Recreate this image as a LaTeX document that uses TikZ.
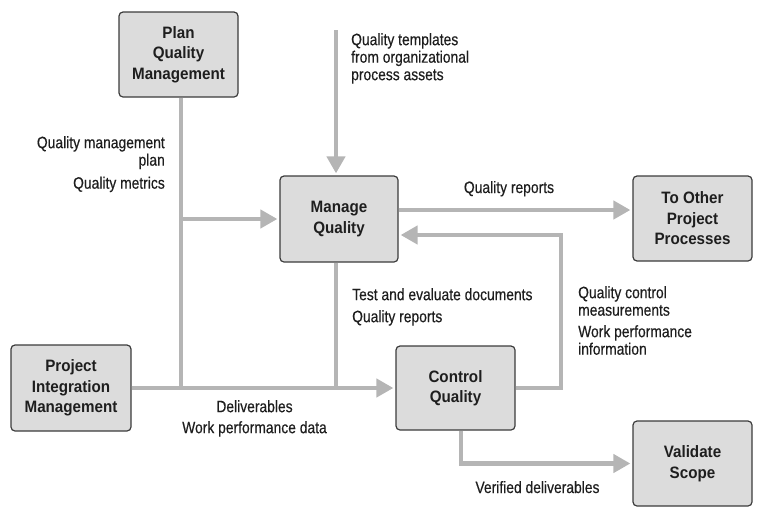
\documentclass[tikz,border=0pt]{standalone}
\usepackage{fontspec}
\setmainfont{Liberation Sans}[FakeStretch=0.92]
\newfontfamily\lblfont{Liberation Sans}[FakeStretch=0.84,FakeBold=0.4]
\usetikzlibrary{arrows.meta,calc}
\definecolor{boxfill}{HTML}{DCDCDC}
\definecolor{boxline}{HTML}{3C3C3C}
\definecolor{conncol}{HTML}{B5B5B5}
\definecolor{txt}{HTML}{1E1E1E}
\tikzset{
  procbox/.style={draw=boxline, fill=boxfill, line width=1.2pt, rounded corners=4pt,
    minimum width=119pt, minimum height=85pt, inner sep=0pt, align=center,
    text=txt, font=\fontsize{16.5}{20.5}\selectfont\bfseries},
  conn/.style={draw=conncol, line width=4.5pt},
  arr/.style={conn, -{Triangle[length=17pt,width=18pt]}, shorten >=2pt},
  lbl/.style={inner sep=0pt, text=txt, font=\lblfont\fontsize{16.5}{17.5}\selectfont}
}
\begin{document}
\begin{tikzpicture}[x=1pt,y=-1pt]
\useasboundingbox (0,0) rectangle (768,520);
% boxes
\node[procbox] (plan) at (178.5,54.5) {Plan\\Quality\\Management};
\node[procbox, minimum width=118pt, minimum height=86pt] (manage) at (339,219) {Manage\\Quality};
\node[procbox, minimum width=120pt, minimum height=86pt] (pim) at (71,388) {Project\\Integration\\Management};
\node[procbox, minimum height=84pt] (control) at (455.5,388) {Control\\Quality};
\node[procbox] (other) at (692.5,218.5) {To Other\\Project\\Processes};
\node[procbox] (validate) at (692.5,463.5) {Validate\\Scope};
% helper coordinates
\coordinate (px) at (181,0);
\coordinate (mx) at (336,0);
\coordinate (tpl) at (336,30);
\coordinate (qy) at (0,210);
\coordinate (fb) at (561,235);
\coordinate (vx) at (461,0);
% connectors
\draw[conn] (px |- plan.south) -- (px |- pim.east);
\draw[arr] (px |- manage.west) -- (manage.west);
\draw[arr] (tpl) -- (tpl |- manage.north);
\draw[conn] (mx |- manage.south) -- (mx |- pim.east);
\draw[arr] (pim.east) -- (control.west);
\draw[arr] (manage.east |- qy) -- (other.west |- qy);
\draw[arr] (control.east) -| (fb) -- (fb -| manage.east);
\draw[arr] (vx |- control.south) |- (validate.west);
% labels
\node[lbl, anchor=north west, align=left] (ltpl) at (351,33) {Quality templates\\from organizational\\process assets};
\node[lbl, anchor=north east, align=right] (lqm) at (165,136) {Quality management\\plan\\[5.5pt]Quality metrics};
\node[lbl, anchor=base] (lqr) at (509,193) {Quality reports};
\node[lbl, anchor=north west, align=left] (lte) at (352,288) {Test and evaluate documents\\[4.5pt]Quality reports};
\node[lbl, anchor=north west, align=left] (lqc) at (578,286) {Quality control\\measurements\\[4pt]Work performance\\information};
\node[lbl, anchor=north, align=center] (ldel) at (254.5,400) {Deliverables\\[3.5pt]Work performance data};
\node[lbl, anchor=base] (lver) at (537.5,493) {Verified deliverables};
\end{tikzpicture}
\end{document}
